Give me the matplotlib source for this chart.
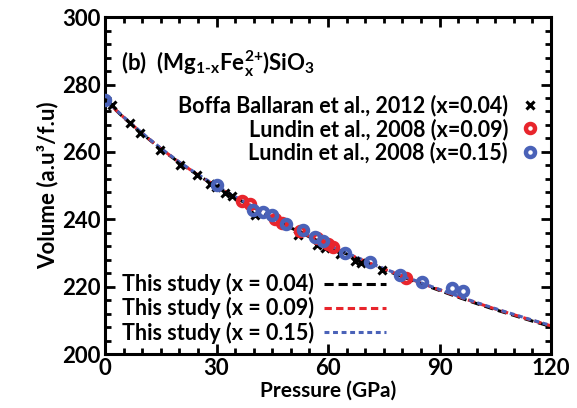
import numpy as np
import matplotlib.pyplot as plt
from matplotlib.ticker import MultipleLocator

plt.rcParams['font.family'] = ['Lato', 'DejaVu Sans']
plt.rcParams['font.weight'] = 'bold'
plt.rcParams['mathtext.fontset'] = 'custom'
plt.rcParams['mathtext.rm'] = 'Lato:bold'
plt.rcParams['mathtext.bf'] = 'Lato:bold'
plt.rcParams['mathtext.it'] = 'Lato:bold'

p_boffa = [1.8, 6.7, 9.4, 14.8, 20.2, 24.7, 28.2, 29.9, 32.3, 34.1, 40.4,
           51.9, 57.0, 59.2, 63.2, 67.3, 69.0, 74.4]
v_boffa = [273.9, 268.5, 265.5, 260.5, 256.1, 253.1, 250.6, 249.6, 247.9, 247.0, 241.4,
           235.4, 232.5, 231.5, 229.6, 227.6, 227.0, 224.9]

p_lun09 = [36.8, 39.0, 45.7, 47.5, 52.5, 56.9, 60.0, 61.3, 81.0]
v_lun09 = [245.5, 244.5, 240.0, 239.0, 236.6, 234.4, 232.8, 231.8, 222.7]

p_lun15 = [0.0, 30.0, 39.9, 42.6, 44.8, 48.8, 53.4, 56.5, 58.7, 64.6, 71.3,
           79.4, 85.2, 93.3, 96.4]
v_lun15 = [275.4, 250.1, 242.9, 242.2, 241.2, 238.5, 236.8, 234.8, 233.5, 229.9, 227.4,
           223.6, 221.5, 219.7, 218.8]

# this study, EOS curves
p_fit = [0, 5, 10, 15, 20, 25, 30, 35, 40, 45, 50, 55, 60, 65, 70, 75, 80,
         85, 90, 95, 100, 105, 110, 115, 120]
v_fit04 = [275.5, 270.2, 265.4, 260.9, 256.8, 253.1, 249.7, 246.5, 243.5, 240.4, 237.5,
           234.8, 232.2, 229.7, 227.4, 225.1, 223.0, 220.9, 218.9, 216.9, 215.0,
           213.2, 211.5, 209.8, 208.2]
v_fit09 = [275.5, 270.3, 265.5, 261.0, 256.9, 253.2, 249.8, 246.6, 243.6, 240.6, 237.7,
           235.0, 232.4, 229.9, 227.6, 225.3, 223.2, 221.1, 219.1, 217.1, 215.2,
           213.4, 211.7, 210.0, 208.4]
v_fit15 = [275.6, 270.4, 265.6, 261.1, 257.0, 253.3, 249.9, 246.7, 243.7, 240.7, 237.8,
           235.1, 232.5, 230.0, 227.7, 225.4, 223.3, 221.2, 219.2, 217.2, 215.3,
           213.5, 211.8, 210.1, 208.5]

red = '#e8252c'
blue = '#4a62b8'

fig = plt.figure(figsize=(5.77, 4.08), dpi=100)
ax = fig.add_axes([0.182, 0.132, 0.773, 0.826])

l1, = ax.plot(p_fit, v_fit04, color='black', lw=2.2, dashes=(3, 1.6), zorder=2)
l2, = ax.plot(p_fit, v_fit09, color=red, lw=2.2, dashes=(2.4, 1.4), zorder=2)
l3, = ax.plot(p_fit, v_fit15, color=blue, lw=2.2, dashes=(1.6, 1.2), zorder=2)

m1, = ax.plot(p_boffa, v_boffa, 'x', color='black', ms=6, mew=2.2, ls='none', zorder=3)
m2, = ax.plot(p_lun09, v_lun09, 'o', color=red, mfc='none', ms=6.5, mew=3.2, ls='none', zorder=3)
m3, = ax.plot(p_lun15, v_lun15, 'o', color=blue, mfc='none', ms=6.5, mew=3.2, ls='none', zorder=4)

ax.set_xlim(0, 120)
ax.set_ylim(200, 300)
ax.xaxis.set_major_locator(MultipleLocator(30))
ax.xaxis.set_minor_locator(MultipleLocator(5))
ax.yaxis.set_major_locator(MultipleLocator(20))
ax.yaxis.set_minor_locator(MultipleLocator(4))
ax.tick_params(which='both', direction='in', top=True, right=True, width=2)
ax.tick_params(which='major', length=7, labelsize=16)
ax.tick_params(axis='x', which='major', pad=3)
ax.tick_params(axis='y', which='major', pad=3)
ax.tick_params(which='minor', length=4)
for s in ax.spines.values():
    s.set_linewidth(2.2)
for lab in ax.get_xticklabels() + ax.get_yticklabels():
    lab.set_fontweight('bold')

ax.set_xlabel('Pressure (GPa)', fontsize=15, fontweight='bold', labelpad=1)
ax.set_ylabel('Volume (a.u³/f.u)', fontsize=16, fontweight='bold', labelpad=3)

ax.text(0.035, 0.86, r'(b)  (Mg$_{\text{1-x}}$Fe$_{\text{x}}^{\text{2+}}$)SiO$_{\text{3}}$',
        transform=ax.transAxes, fontsize=16, fontweight='bold', va='center')

leg1 = ax.legend([m1, m2, m3],
                 ['Boffa Ballaran et al., 2012 (x=0.04)',
                  'Lundin et al., 2008 (x=0.09)',
                  'Lundin et al., 2008 (x=0.15)'],
                 loc='upper right', bbox_to_anchor=(1.011, 0.822), frameon=False,
                 markerfirst=False, handlelength=0.8, handletextpad=0.63,
                 labelspacing=0.1, borderaxespad=0.4,
                 prop={'weight': 'bold', 'size': 15.5})
for t in leg1.get_texts():
    t.set_ha('right')
ax.add_artist(leg1)

ax.legend([l1, l2, l3],
          ['This study (x = 0.04)', 'This study (x = 0.09)', 'This study (x = 0.15)'],
          loc='lower left', bbox_to_anchor=(0.0, -0.02), frameon=False,
          markerfirst=False, handlelength=2.9, handletextpad=0.45,
          labelspacing=0.1, borderaxespad=0.4,
          prop={'weight': 'bold', 'size': 15.5})

fig.savefig('out.png', dpi=100)
